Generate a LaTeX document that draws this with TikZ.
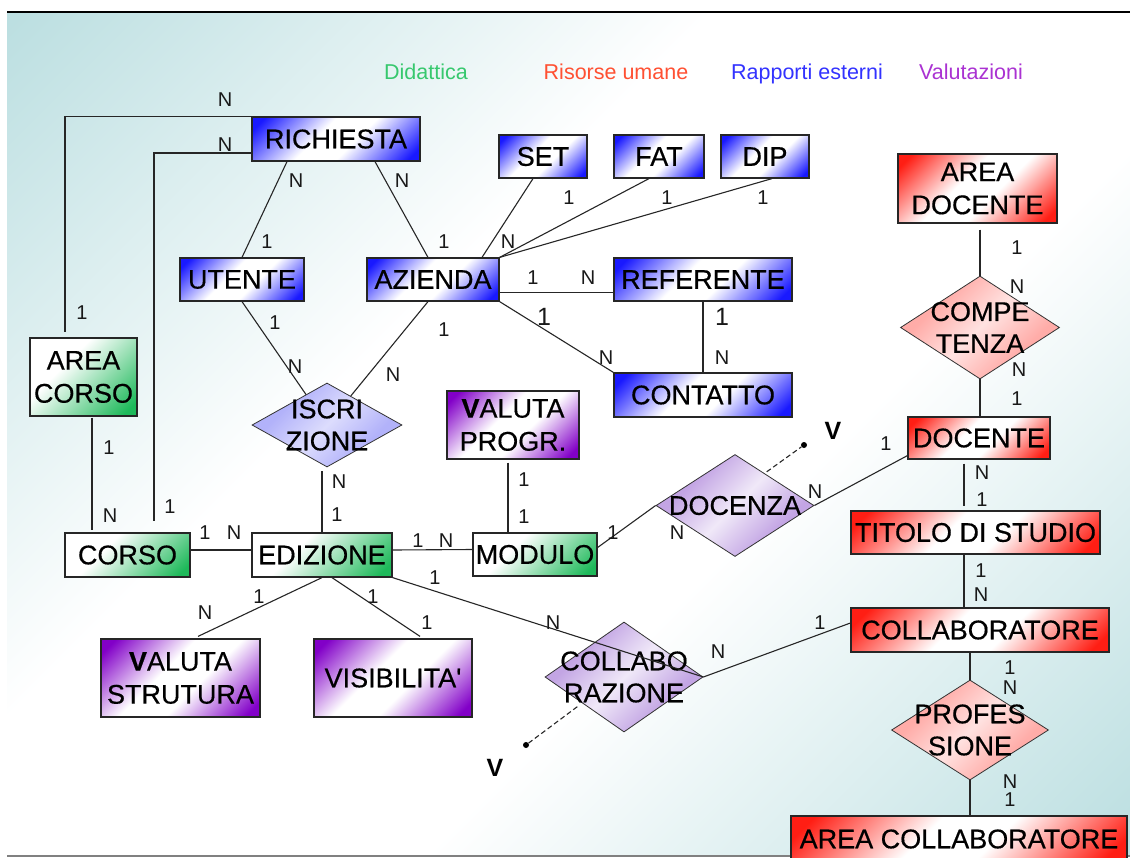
\documentclass[tikz,border=0pt]{standalone}
\usepackage{fontspec}
\setmainfont{Liberation Sans}
\newfontfamily\entfont[FakeBold=0.5]{Liberation Sans}
\usetikzlibrary{shapes.geometric,calc}
\definecolor{cB}{RGB}{25,25,255}
\definecolor{cG}{RGB}{30,185,90}
\definecolor{cR}{RGB}{255,30,20}
\definecolor{cP}{RGB}{130,0,200}
\definecolor{dB}{RGB}{178,178,250}
\definecolor{dP}{RGB}{195,165,228}
\definecolor{dR}{RGB}{255,172,168}
\definecolor{bgT}{RGB}{188,223,225}
\definecolor{lgG}{RGB}{55,200,110}
\definecolor{lgR}{RGB}{255,80,50}
\definecolor{lgB}{RGB}{50,50,255}
\definecolor{lgP}{RGB}{170,50,210}
\pgfdeclarehorizontalshading{bgsh}{100bp}{color(0bp)=(bgT); color(15bp)=(bgT); color(40bp)=(white); color(60bp)=(white); color(85bp)=(bgT); color(100bp)=(bgT)}
\pgfdeclarehorizontalshading{shB}{100bp}{color(0bp)=(cB); color(19bp)=(cB); color(43bp)=(white); color(57bp)=(white); color(81bp)=(cB); color(100bp)=(cB)}
\pgfdeclarehorizontalshading{shR}{100bp}{color(0bp)=(cR); color(19bp)=(cR); color(43bp)=(white); color(57bp)=(white); color(81bp)=(cR); color(100bp)=(cR)}
\pgfdeclarehorizontalshading{shP}{100bp}{color(0bp)=(cP); color(19bp)=(cP); color(43bp)=(white); color(57bp)=(white); color(81bp)=(cP); color(100bp)=(cP)}
\pgfdeclarehorizontalshading{shG}{100bp}{color(0bp)=(white); color(38bp)=(white); color(80bp)=(cG); color(100bp)=(cG)}
\pgfdeclarehorizontalshading{dshB}{100bp}{color(0bp)=(dB); color(32bp)=(dB); color(50bp)=(white!55!dB); color(68bp)=(dB); color(100bp)=(dB)}
\pgfdeclarehorizontalshading{dshP}{100bp}{color(0bp)=(dP); color(32bp)=(dP); color(50bp)=(white!75!dP); color(68bp)=(dP); color(100bp)=(dP)}
\pgfdeclarehorizontalshading{dshR}{100bp}{color(0bp)=(dR); color(32bp)=(dR); color(50bp)=(white!65!dR); color(68bp)=(dR); color(100bp)=(dR)}
\begin{document}
\begin{tikzpicture}[x=1pt,y=-1pt,
  ent/.style={draw=black!85, line width=1.2pt, inner sep=0pt, align=center,
    font=\entfont\fontsize{27}{33}\selectfont, shade, shading angle=-45},
  entB/.style={ent, shading=shB},
  entR/.style={ent, shading=shR},
  entP/.style={ent, shading=shP},
  entG/.style={ent, shading=shG},
  rel/.style={diamond, draw=black!80, line width=0.8pt, inner sep=0pt, shade, shading angle=-45},
  reltxt/.style={font=\entfont\fontsize{27}{32}\selectfont, align=center},
  conn/.style={draw=black!85, line width=1.1pt},
  dashconn/.style={draw=black!85, line width=1.1pt, dash pattern=on 5pt off 3pt},
  lab/.style={font=\fontsize{20}{20}\selectfont, inner sep=0pt, text=black!90},
  labbig/.style={font=\fontsize{25}{25}\selectfont, inner sep=0pt, text=black!90},
  vlab/.style={font=\bfseries\fontsize{25}{25}\selectfont, inner sep=0pt},
  leg/.style={font=\fontsize{21.5}{22}\selectfont, inner sep=0pt, anchor=base},
  vdot/.style={circle, fill=black, inner sep=0pt, minimum size=6pt}]
\useasboundingbox (0,0) rectangle (1130,857);
\fill[white] (0,0) rectangle (1130,857);
\shade[shading=bgsh, shading angle=-45] (7,12) rectangle (1130,856);
\draw[line width=1.6pt] (7,12) -- (1130,12);
\draw[gray, line width=1.2pt] (7,856) -- (1130,856);

% legend
\node[leg, text=lgG] (lg1) at (426,79) {Didattica};
\node[leg, text=lgR] (lg2) at (616,79) {Risorse umane};
\node[leg, text=lgB] (lg3) at (807,79) {Rapporti esterni};
\node[leg, text=lgP] (lg4) at (971,79) {Valutazioni};

% entities
\node[entB, minimum width=168pt, minimum height=44pt] (richiesta) at (336,139) {RICHIESTA};
\node[entB, minimum width=88pt, minimum height=43pt] (set) at (543,156.5) {SET};
\node[entB, minimum width=90pt, minimum height=43pt] (fat) at (659,156.5) {FAT};
\node[entB, minimum width=88pt, minimum height=43pt] (dip) at (765,156.5) {DIP};
\node[entR, minimum width=159pt, minimum height=69pt] (areadoc) at (977.5,188.5) {AREA\\DOCENTE};
\node[entB, minimum width=124pt, minimum height=43pt] (utente) at (242,279.5) {UTENTE};
\node[entB, minimum width=132pt, minimum height=43pt] (azienda) at (433,279.5) {AZIENDA};
\node[entB, minimum width=178pt, minimum height=43pt] (referente) at (703,279.5) {REFERENTE};
\node[entG, minimum width=107pt, minimum height=78pt] (areacorso) at (83.5,377) {AREA\\CORSO};
\node[entB, minimum width=178pt, minimum height=44pt] (contatto) at (703,395) {CONTATTO};
\node[entP, minimum width=132pt, minimum height=68pt] (valprogr) at (513,425) {\textbf{V}ALUTA\\PROGR.};
\node[entR, minimum width=142pt, minimum height=42pt] (docente) at (979,438) {DOCENTE};
\node[entR, minimum width=249pt, minimum height=43pt] (titolo) at (975.5,532.5) {TITOLO DI STUDIO};
\node[entG, minimum width=125pt, minimum height=44pt] (corso) at (127.5,555) {CORSO};
\node[entG, minimum width=140pt, minimum height=44pt] (edizione) at (322,555) {EDIZIONE};
\node[entG, minimum width=124pt, minimum height=43pt] (modulo) at (535,554.5) {MODULO};
\node[entR, minimum width=258pt, minimum height=44pt] (collaboratore) at (980,630) {COLLABORATORE};
\node[entP, minimum width=159pt, minimum height=78pt] (valstrut) at (180.5,678) {\textbf{V}ALUTA\\STRUTURA};
\node[entP, minimum width=158pt, minimum height=78pt] (visib) at (393,678) {VISIBILITA'};
\node[entR, minimum width=336pt, minimum height=46pt] (areacollab) at (959,839) {AREA COLLABORATORE};

% relationships
\node[rel, shading=dshB, minimum width=150pt, minimum height=84pt,
  label={[reltxt]center:{ISCRI\\ZIONE}}] (iscrizione) at (327,425) {};
\node[rel, shading=dshR, minimum width=159pt, minimum height=103pt,
  label={[reltxt]center:{COMPE\\TENZA}}] (competenza) at (980,327.5) {};
\node[rel, shading=dshP, minimum width=158pt, minimum height=102pt,
  label={[reltxt]center:{DOCENZA}}] (docenza) at (735,505.5) {};
\node[rel, shading=dshP, minimum width=158pt, minimum height=110pt,
  label={[reltxt]center:{COLLABO\\RAZIONE}}] (collaborazione) at (624,677) {};
\node[rel, shading=dshR, minimum width=157pt, minimum height=100pt,
  label={[reltxt]center:{PROFES\\SIONE}}] (professione) at (970,730) {};

\node[vdot] (vd1) at (804,445) {};
\node[vdot] (vd2) at (526,745) {};

% connectors
\draw[conn] (richiesta.north west) -| ([xshift=-18.5pt,yshift=5pt]areacorso.north);
\draw[conn] ([yshift=-14pt]richiesta.west) -| ([xshift=26.5pt,yshift=11pt]corso.north);
\draw[conn] ([xshift=8.5pt,yshift=-1pt]areacorso.south) -- ([xshift=-35.5pt,yshift=2pt]corso.north);
\draw[conn] ([xshift=-49pt]richiesta.south) -- (utente.north);
\draw[conn] ([xshift=39pt]richiesta.south) -- ([xshift=-5pt]azienda.north);
\draw[conn] ([xshift=-10pt]set.south) -- ([xshift=49pt]azienda.north);
\draw[conn] ([xshift=-10pt]fat.south) -- (azienda.north east);
\draw[conn] ([xshift=7pt]dip.south) -- (azienda.north east);
\draw[conn] ([yshift=-13pt]azienda.east) -- ([yshift=-13pt]referente.west);
\draw[conn] (azienda.south east) -- (contatto.north west);
\draw[conn] (referente.south) -- (contatto.north);
\draw[conn] (utente.south) -- (iscrizione);
\draw[conn] ([xshift=-5pt]azienda.south) -- (iscrizione);
\draw[conn] ([yshift=-4pt]edizione.north |- iscrizione.south) -- (edizione.north);
\draw[conn] ([yshift=5pt]corso.east) -- ([yshift=5pt]edizione.west);
\draw[conn] ([yshift=5pt]edizione.east) -- ([yshift=5pt]modulo.west);
\draw[conn] ([xshift=-5pt,yshift=-3pt]valprogr.south) -- ([xshift=-5pt]valprogr.south |- modulo.north);
\draw[conn] ([yshift=7pt]modulo.east) -- (docenza.west);
\draw[conn] (docenza.east) -- ([yshift=4pt]docente.south west);
\draw[dashconn] ([xshift=-8pt,yshift=8pt]docenza.north east) -- (vd1);
\draw[conn] ([yshift=-6pt]areadoc.south -| competenza.north) -- (competenza.north);
\draw[conn] (competenza.south) -- (competenza.south |- docente.north);
\draw[conn] ([xshift=-15pt,yshift=-4pt]docente.south) -- ([xshift=-11.5pt,yshift=4pt]titolo.north);
\draw[conn] ([xshift=-11.5pt]titolo.south) -- ([xshift=-16pt]collaboratore.north);
\draw[conn] ([yshift=7pt]collaboratore.west) -- (collaborazione.east);
\draw[conn] (edizione.south east) -- (collaborazione.east);
\draw[dashconn] ([xshift=-7pt,yshift=-2pt]collaborazione.south west) -- (vd2);
\draw[conn] (edizione.south) -- ([xshift=17.5pt,yshift=2pt]valstrut.north);
\draw[conn] ([xshift=10pt]edizione.south) -- ([xshift=27pt,yshift=2pt]visib.north);
\draw[conn] ([xshift=-10pt]collaboratore.south) -- (professione.north);
\draw[conn] (professione.south) -- (professione.south |- areacollab.north);

% cardinalities
\node[lab] (n1) at (225,100) {N};
\node[lab] (n2) at (82,313) {1};
\node[lab] (n3) at (225,145) {N};
\node[lab] (n4) at (170,507) {1};
\node[lab] (n5) at (296,181) {N};
\node[lab] (n6) at (267,242) {1};
\node[lab] (n7) at (402,181) {N};
\node[lab] (n8) at (444,242) {1};
\node[lab] (n9) at (508,242) {N};
\node[lab] (n10) at (569,198) {1};
\node[lab] (n11) at (667,198) {1};
\node[lab] (n12) at (763,198) {1};
\node[lab] (n13) at (533,278) {1};
\node[lab] (n14) at (588,278) {N};
\node[labbig] (n15) at (544,317) {1};
\node[lab] (n16) at (606,358) {N};
\node[labbig] (n17) at (722,317) {1};
\node[lab] (n18) at (722,358) {N};
\node[lab] (n19) at (275,323) {1};
\node[lab] (n20) at (295,367) {N};
\node[lab] (n21) at (444,330) {1};
\node[lab] (n22) at (393,375) {N};
\node[lab] (n23) at (339,482) {N};
\node[lab] (n24) at (337,515) {1};
\node[lab] (n25) at (109,448) {1};
\node[lab] (n26) at (110,516) {N};
\node[lab] (n27) at (205,533) {1};
\node[lab] (n28) at (234,533) {N};
\node[lab] (n29) at (418,541) {1};
\node[lab] (n30) at (446,541) {N};
\node[lab] (n31) at (524,480) {1};
\node[lab] (n32) at (524,517) {1};
\node[lab] (n33) at (613,533) {1};
\node[lab] (n34) at (677,533) {N};
\node[lab] (n35) at (815,492) {N};
\node[lab] (n36) at (886,444) {1};
\node[vlab] (v1) at (833,431) {V};
\node[lab] (n37) at (1017,248) {1};
\node[lab] (n38) at (1017,287) {N};
\node[lab] (n39) at (1019,370) {N};
\node[lab] (n40) at (1017,399) {1};
\node[lab] (n41) at (982,473) {N};
\node[lab] (n42) at (982,500) {1};
\node[lab] (n43) at (981,571) {1};
\node[lab] (n44) at (981,595) {N};
\node[lab] (n45) at (820,623) {1};
\node[lab] (n46) at (718,652) {N};
\node[lab] (n47) at (435,578) {1};
\node[lab] (n48) at (553,623) {N};
\node[lab] (n49) at (205,613) {N};
\node[lab] (n50) at (259,597) {1};
\node[lab] (n51) at (373,597) {1};
\node[lab] (n52) at (427,623) {1};
\node[vlab] (v2) at (495,768) {V};
\node[lab] (n53) at (1010,668) {1};
\node[lab] (n54) at (1010,688) {N};
\node[lab] (n55) at (1010,782) {N};
\node[lab] (n56) at (1010,800) {1};
\end{tikzpicture}
\end{document}
